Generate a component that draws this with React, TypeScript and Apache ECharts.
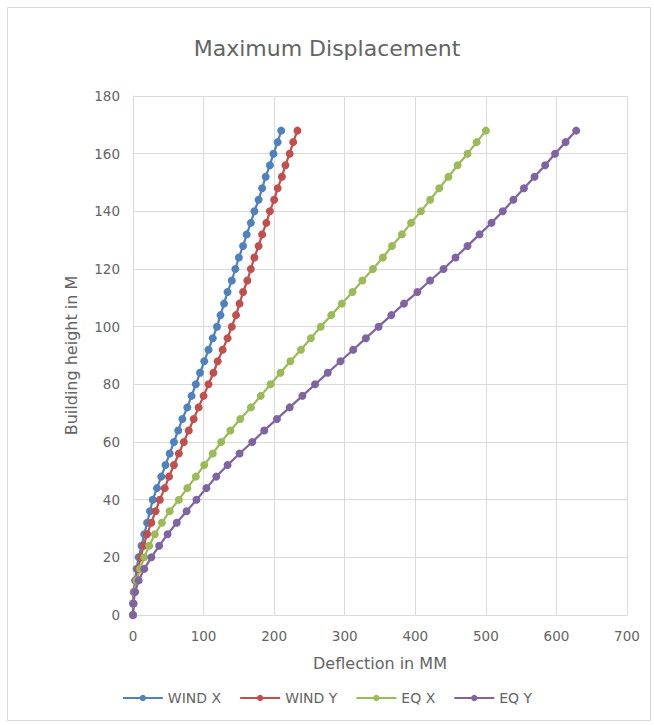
import React, { useEffect, useRef } from "react";
import * as echarts from "echarts";

// Storey levels (m) where displacement was recorded
const heights: number[] = [
  0, 4, 8, 12, 16, 20, 24, 28, 32, 36, 40, 44, 48, 52, 56, 60, 64, 68, 72, 76, 80,
  84, 88, 92, 96, 100, 104, 108, 112, 116, 120, 124, 128, 132, 136, 140, 144, 148,
  152, 156, 160, 164, 168,
];

// Lateral deflection (mm) at each level
const windX: number[] = [
  0, 0.3, 1, 3, 5, 8, 12, 16, 20, 24, 28, 34, 40, 46, 52, 58, 64, 70, 77, 83, 89,
  95, 101, 107, 113, 119, 124, 129, 134, 140, 145, 150, 156, 161, 167, 172, 178, 183,
  188, 194, 199, 205, 210,
];
const windY: number[] = [
  0, 0.5, 1.5, 4, 7, 11, 15, 20, 26, 32, 38, 45, 51, 58, 65, 72, 79, 86, 93, 100, 107,
  114, 120, 127, 134, 140, 146, 151, 156, 162, 167, 172, 178, 183, 189, 194, 200, 205,
  211, 216, 222, 227, 233,
];
const eqX: number[] = [
  0, 0.5, 2, 5, 10, 16, 23, 31, 41, 52, 65, 77, 89, 101, 113, 125, 138, 152, 167, 181,
  195, 209, 223, 238, 252, 266, 281, 296, 311, 325, 340, 354, 367, 381, 394, 408, 421,
  434, 447, 460, 474, 487, 500,
];
const eqY: number[] = [
  0, 0.5, 3, 8, 16, 26, 37, 49, 62, 76, 90, 104, 118, 134, 151, 169, 186, 204, 222,
  240, 258, 276, 294, 312, 330, 348, 366, 384, 403, 421, 440, 457, 474, 491, 508, 524,
  539, 554, 569, 584, 598, 613, 628,
];

const seriesNames: string[] = ["WIND X", "WIND Y", "EQ X", "EQ Y"];
const seriesValues: number[][] = [windX, windY, eqX, eqY];
const seriesColors: string[] = ["#4F81BD", "#C0504D", "#9BBB59", "#8064A2"];

const FONT = "'DejaVu Sans', 'Open Sans', sans-serif";
const TEXT = "#646464";
const GRID = "#d9d9d9";

export default function App() {
  const ref = useRef<HTMLDivElement>(null);

  useEffect(() => {
    if (!ref.current) return;
    const chart = echarts.init(ref.current, undefined, { renderer: "svg" });
    chart.setOption({
      animation: false,
      backgroundColor: "#ffffff",
      textStyle: { fontFamily: FONT },
      title: {
        text: "Maximum Displacement",
        left: "center",
        top: 32,
        textStyle: { fontFamily: FONT, fontSize: 22, fontWeight: "normal", color: TEXT },
      },
      graphic: [
        {
          type: "rect",
          shape: { x: 7.5, y: 7.5, width: 643, height: 713 },
          style: { fill: "none", stroke: GRID, lineWidth: 1 },
          silent: true,
          z: -1,
        },
      ],
      legend: {
        bottom: 15,
        left: "center",
        itemWidth: 40,
        itemHeight: 8,
        itemGap: 18,
        data: seriesNames,
        textStyle: { fontFamily: FONT, fontSize: 14, color: TEXT },
      },
      grid: { left: 133, right: 27, top: 96, bottom: 110 },
      xAxis: {
        type: "value",
        min: 0,
        max: 700,
        interval: 100,
        name: "Deflection in MM",
        nameLocation: "middle",
        nameGap: 40,
        nameTextStyle: { fontFamily: FONT, fontSize: 16, color: TEXT },
        axisLine: { show: true, lineStyle: { color: GRID } },
        axisTick: { show: false },
        axisLabel: { color: TEXT, fontSize: 13.5, margin: 14 },
        splitLine: { show: true, lineStyle: { color: GRID, width: 1 } },
      },
      yAxis: {
        type: "value",
        min: 0,
        max: 180,
        interval: 20,
        name: "Building height in M",
        nameLocation: "middle",
        nameGap: 54,
        nameRotate: 90,
        nameTextStyle: { fontFamily: FONT, fontSize: 16, color: TEXT },
        axisLine: { show: true, lineStyle: { color: GRID } },
        axisTick: { show: false },
        axisLabel: { color: TEXT, fontSize: 13.5, margin: 13 },
        splitLine: { show: true, lineStyle: { color: GRID, width: 1 } },
      },
      series: seriesNames.map((name, i) => ({
        name,
        type: "line",
        data: seriesValues[i].map((v, k) => [v, heights[k]]),
        symbol: "circle",
        symbolSize: 8,
        showSymbol: true,
        lineStyle: { color: seriesColors[i], width: 2.25 },
        itemStyle: { color: seriesColors[i] },
        emphasis: { disabled: true },
      })),
    });
    return () => chart.dispose();
  }, []);

  return (
    <div
      ref={ref}
      style={{ position: "fixed", left: 0, top: 0, width: 654, height: 725 }}
    />
  );
}
